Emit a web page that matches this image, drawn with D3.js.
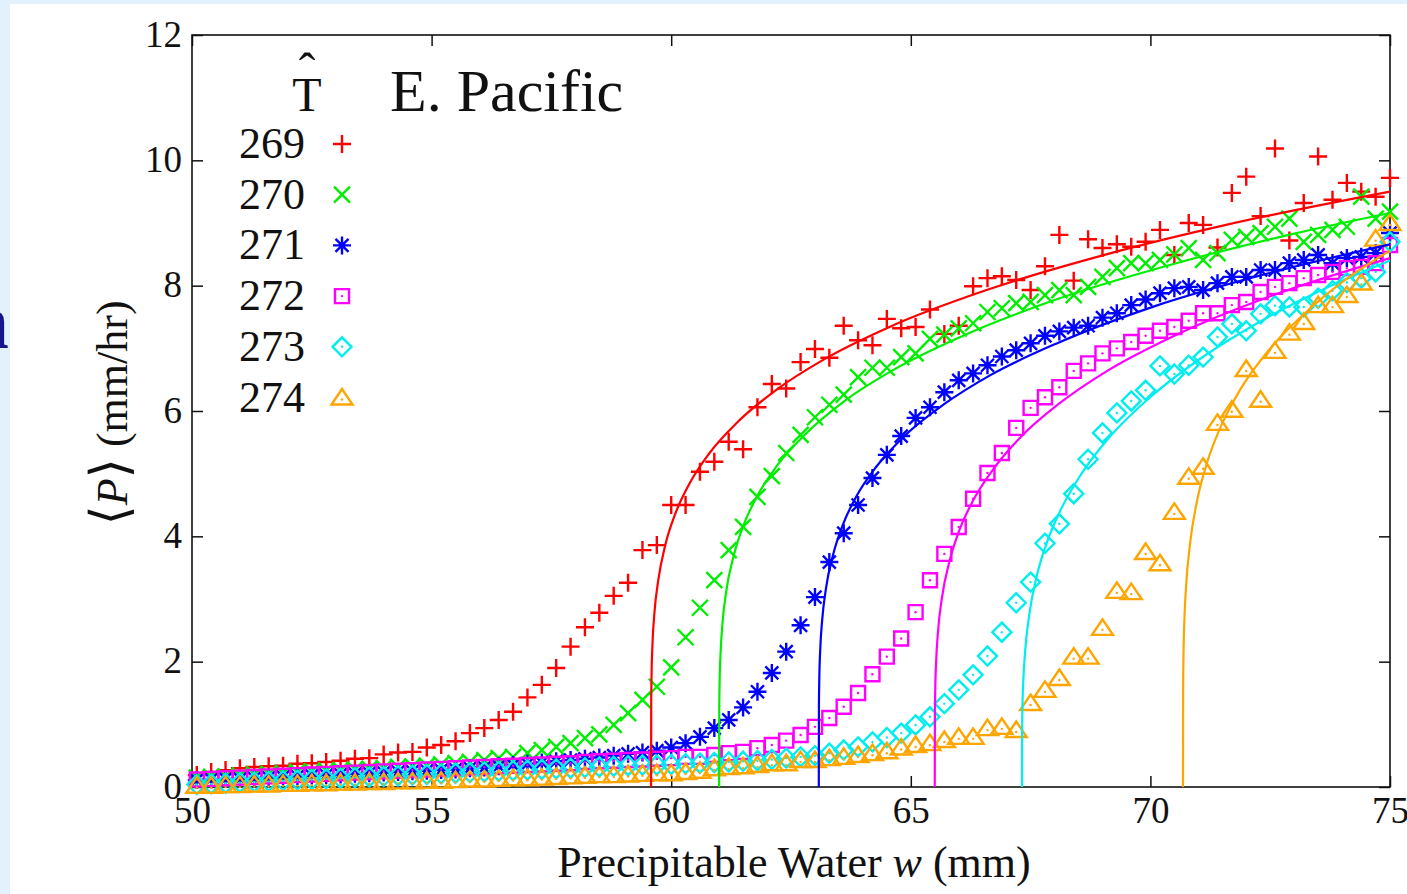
<!DOCTYPE html>
<html><head><meta charset="utf-8">
<script src="https://cdn.jsdelivr.net/npm/d3@7"></script>
<style>html,body{margin:0;padding:0;background:#e3f1fc;} svg{display:block}</style>
</head><body>
<svg id="chart" width="1407" height="894"></svg>
<script>
// ---- data ----
const wBins = [50.1,50.4,50.7,51.0,51.3,51.6,51.9,52.2,52.5,52.8,
  53.1,53.4,53.7,54.0,54.3,54.6,54.9,55.2,55.5,55.8,
  56.1,56.4,56.7,57.0,57.3,57.6,57.9,58.2,58.5,58.8,
  59.1,59.4,59.7,60.0,60.3,60.6,60.9,61.2,61.5,61.8,
  62.1,62.4,62.7,63.0,63.3,63.6,63.9,64.2,64.5,64.8,
  65.1,65.4,65.7,66.0,66.3,66.6,66.9,67.2,67.5,67.8,
  68.1,68.4,68.7,69.0,69.3,69.6,69.9,70.2,70.5,70.8,
  71.1,71.4,71.7,72.0,72.3,72.6,72.9,73.2,73.5,73.8,
  74.1,74.4,74.7,75.0];
const p269 = [0.19,0.24,0.27,0.30,0.32,0.33,0.34,0.37,0.38,0.40,
  0.42,0.45,0.46,0.52,0.55,0.56,0.63,0.67,0.73,0.86,
  0.94,1.07,1.20,1.43,1.63,1.90,2.24,2.55,2.78,3.05,
  3.26,3.78,3.86,4.50,4.50,5.03,5.19,5.51,5.39,6.06,
  6.43,6.36,6.78,6.99,6.85,7.36,7.13,7.05,7.47,7.32,
  7.34,7.62,7.23,7.36,7.99,8.12,8.15,8.09,7.93,8.31,
  8.81,8.08,8.74,8.60,8.66,8.62,8.70,8.89,8.49,9.00,
  8.97,8.61,9.48,9.74,9.11,10.19,8.72,9.32,10.06,9.37,
  9.64,9.50,9.42,9.72];
const p270 = [0.15,0.16,0.17,0.18,0.20,0.21,0.22,0.24,0.25,0.26,
  0.27,0.28,0.29,0.30,0.32,0.33,0.34,0.36,0.38,0.40,
  0.43,0.46,0.48,0.54,0.59,0.64,0.70,0.78,0.84,0.99,
  1.18,1.39,1.60,1.91,2.39,2.86,3.30,3.78,4.15,4.63,
  4.96,5.33,5.62,5.90,6.10,6.26,6.54,6.69,6.69,6.86,
  6.92,7.15,7.22,7.32,7.40,7.58,7.64,7.72,7.74,7.85,
  7.93,7.85,7.98,8.14,8.28,8.36,8.36,8.41,8.50,8.60,
  8.41,8.52,8.73,8.78,8.84,8.94,9.07,8.70,8.81,8.89,
  8.94,9.42,9.07,9.18];
const p271 = [0.11,0.12,0.13,0.13,0.14,0.15,0.16,0.17,0.18,0.19,
  0.20,0.21,0.22,0.23,0.24,0.25,0.26,0.27,0.28,0.30,
  0.31,0.33,0.35,0.37,0.39,0.41,0.43,0.45,0.47,0.50,
  0.53,0.55,0.58,0.63,0.70,0.80,0.94,1.07,1.27,1.52,
  1.82,2.16,2.58,3.03,3.59,4.05,4.50,4.93,5.30,5.60,
  5.89,6.06,6.30,6.49,6.60,6.73,6.87,6.97,7.08,7.20,
  7.27,7.33,7.36,7.49,7.56,7.69,7.78,7.88,7.96,7.98,
  7.93,8.04,8.14,8.14,8.25,8.25,8.36,8.41,8.49,8.36,
  8.44,8.46,8.52,8.84];
const p272 = [0.12,0.13,0.14,0.15,0.16,0.17,0.18,0.19,0.20,0.21,
  0.22,0.23,0.24,0.25,0.26,0.27,0.28,0.29,0.30,0.31,
  0.32,0.33,0.34,0.35,0.36,0.37,0.38,0.40,0.41,0.42,
  0.43,0.44,0.45,0.46,0.48,0.48,0.51,0.54,0.56,0.62,
  0.67,0.74,0.83,0.96,1.10,1.28,1.50,1.80,2.08,2.37,
  2.79,3.30,3.72,4.15,4.60,5.01,5.33,5.73,6.05,6.22,
  6.38,6.64,6.76,6.92,7.00,7.10,7.20,7.28,7.34,7.44,
  7.56,7.56,7.69,7.74,7.90,7.98,8.04,8.12,8.17,8.22,
  8.28,8.30,8.36,8.65];
const p273 = [0.04,0.05,0.06,0.07,0.08,0.09,0.10,0.11,0.12,0.13,
  0.14,0.15,0.16,0.17,0.18,0.19,0.20,0.21,0.22,0.23,
  0.24,0.25,0.26,0.27,0.28,0.29,0.30,0.31,0.32,0.33,
  0.34,0.35,0.35,0.36,0.37,0.38,0.39,0.40,0.41,0.42,
  0.44,0.46,0.48,0.50,0.54,0.59,0.64,0.72,0.79,0.86,
  0.99,1.12,1.33,1.55,1.79,2.09,2.47,2.94,3.27,3.89,
  4.20,4.68,5.23,5.65,5.97,6.16,6.33,6.72,6.59,6.73,
  6.86,7.18,7.39,7.28,7.55,7.68,7.66,7.66,7.80,7.92,
  8.05,8.12,8.22,8.70];
const p274 = [0.02,0.02,0.03,0.03,0.04,0.04,0.05,0.05,0.06,0.06,
  0.07,0.07,0.08,0.08,0.09,0.09,0.10,0.10,0.11,0.12,
  0.12,0.13,0.14,0.14,0.15,0.16,0.17,0.18,0.19,0.19,
  0.20,0.21,0.22,0.22,0.24,0.26,0.30,0.32,0.33,0.35,
  0.38,0.38,0.43,0.43,0.46,0.48,0.51,0.54,0.57,0.63,
  0.67,0.70,0.75,0.80,0.80,0.94,0.96,0.91,1.34,1.55,
  1.74,2.08,2.08,2.54,3.13,3.11,3.75,3.57,4.39,4.95,
  5.11,5.81,6.02,6.67,6.18,6.96,7.25,7.42,7.69,7.69,
  7.85,8.05,8.75,9.00];

// fitted curves
const fitW269 = [59.58,59.583,59.59,59.61,59.65,59.73,59.88,60.08,60.38,60.78,61.38,62.18,63.18,64.58,66.58,69.08,71.58,75.0];
const fitP269 = [0,1.35,1.78,2.29,2.78,3.30,3.87,4.35,4.84,5.31,5.82,6.33,6.82,7.35,7.93,8.50,8.97,9.50];
const fitW270 = [61.00,61.003,61.01,61.03,61.07,61.15,61.30,61.50,61.80,62.20,62.80,63.60,64.60,66.00,68.00,70.50,73.00,75.00];
const fitP270 = [0,1.24,1.65,2.13,2.61,3.13,3.68,4.16,4.65,5.12,5.63,6.15,6.64,7.17,7.77,8.35,8.83,9.16];
const fitW271 = [63.08,63.083,63.09,63.11,63.15,63.23,63.38,63.58,63.88,64.28,64.88,65.68,66.68,68.08,70.08,72.58,75.00];
const fitP271 = [0,1.29,1.70,2.19,2.66,3.17,3.71,4.18,4.66,5.11,5.61,6.10,6.58,7.09,7.67,8.22,8.66];
const fitW272 = [65.50,65.503,65.51,65.53,65.57,65.65,65.80,66.00,66.30,66.70,67.30,68.10,69.10,70.50,72.50,75.00];
const fitP272 = [0,1.14,1.54,2.02,2.50,3.02,3.58,4.07,4.57,5.05,5.59,6.12,6.64,7.20,7.83,8.44];
const fitW273 = [67.32,67.323,67.33,67.35,67.39,67.47,67.62,67.82,68.12,68.52,69.12,69.92,70.92,72.32,75.00];
const fitP273 = [0,0.90,1.27,1.73,2.20,2.74,3.34,3.86,4.41,4.95,5.56,6.17,6.77,7.44,8.40];
const fitW274 = [70.68,70.683,70.69,70.71,70.75,70.83,70.98,71.18,71.48,71.88,72.48,73.28,74.08,75.00];
const fitP274 = [0,1.56,2.07,2.68,3.26,3.90,4.59,5.17,5.77,6.35,6.98,7.60,8.10,8.56];

const tempLabels = ["269","270","271","272","273","274"];
const xTicks = [50,55,60,65,70,75];
const yTicks = [0,2,4,6,8,10,12];

// ---- build ----
const colors = ["#ff0000","#00ee00","#0000ff","#ff00ff","#00eeee","#ffa500"];
const series = [p269,p270,p271,p272,p273,p274];
const fitsW = [fitW269,fitW270,fitW271,fitW272,fitW273,fitW274];
const fitsP = [fitP269,fitP270,fitP271,fitP272,fitP273,fitP274];
const symPaths = [
  "M-9,0H9M0,-9V9",
  "M-8,-8L8,8M-8,8L8,-8",
  "M-9,0H9M0,-9V9M-6.5,-6.5L6.5,6.5M-6.5,6.5L6.5,-6.5",
  "M-7,-7H7V7H-7Z",
  "M0,-9.5L9.5,0L0,9.5L-9.5,0Z",
  "M0,-8.5L10.5,7H-10.5Z"
];
const dotOffset = [null,null,null,0,0,2];
const serif = "'Liberation Serif','Times New Roman',serif";

const svg = d3.select("#chart");
svg.append("rect").attr("width",1407).attr("height",894).attr("fill","#e3f1fc");
svg.append("rect").attr("x",10).attr("y",4).attr("width",1397).attr("height",890).attr("fill","#ffffff");
svg.append("text").attr("x",9).attr("y",348).attr("text-anchor","end")
  .attr("font-family",serif).attr("font-weight","bold").attr("font-size",78)
  .attr("fill","#16168c").text("n");

const x = d3.scaleLinear().domain([50,75]).range([192,1390]);
const y = d3.scaleLinear().domain([0,12]).range([787,35]);

// axes with inward ticks
const gB = svg.append("g").attr("transform","translate(0,787)")
  .call(d3.axisBottom(x).tickValues(xTicks).tickSizeInner(-11).tickSizeOuter(0).tickPadding(12));
const gL = svg.append("g").attr("transform","translate(192,0)")
  .call(d3.axisLeft(y).tickValues(yTicks).tickSizeInner(-11).tickSizeOuter(0).tickPadding(10));
const gT = svg.append("g").attr("transform","translate(0,35)")
  .call(d3.axisTop(x).tickValues(xTicks).tickSizeInner(-11).tickSizeOuter(0).tickFormat(""));
const gR = svg.append("g").attr("transform","translate(1390,0)")
  .call(d3.axisRight(y).tickValues(yTicks).tickSizeInner(-11).tickSizeOuter(0).tickFormat(""));
[gB,gL,gT,gR].forEach(g=>{
  g.select(".domain").remove();
  g.selectAll(".tick line").attr("stroke","#111").attr("stroke-width",1.5);
  g.selectAll("text").attr("font-family",serif).attr("font-size",37).attr("fill","#111");
});
gB.selectAll("text").attr("dy",null).attr("y",36);
gL.selectAll("text").attr("dy",null).attr("y",11).attr("x",-10);

svg.append("rect").attr("x",192).attr("y",35).attr("width",1198).attr("height",752)
  .attr("fill","none").attr("stroke","#111").attr("stroke-width",1.6);

// points
series.forEach((vals,i)=>{
  const g = svg.append("g").attr("class","pts s"+i);
  const pts = g.selectAll("g").data(vals.map((p,k)=>[wBins[k],p])).join("g")
    .attr("transform",d=>`translate(${x(d[0])},${y(d[1])})`);
  pts.append("path").attr("d",symPaths[i]).attr("fill","none")
    .attr("stroke",colors[i]).attr("stroke-width",2.4);
  if(dotOffset[i]!==null){
    pts.append("circle").attr("cx",0).attr("cy",dotOffset[i]).attr("r",1.2).attr("fill",colors[i]);
  }
});

// fit lines
const line = d3.line().x(d=>x(d[0])).y(d=>y(d[1])).curve(d3.curveMonotoneX);
fitsW.forEach((ws,i)=>{
  svg.append("path").attr("d",line(ws.map((w,k)=>[w,fitsP[i][k]])))
    .attr("fill","none").attr("stroke",colors[i]).attr("stroke-width",2.2);
});

// legend
svg.append("text").attr("x",307).attr("y",111).attr("text-anchor","middle")
  .attr("font-family",serif).attr("font-size",48).attr("fill","#111").text("T");
svg.append("text").attr("x",307).attr("y",88).attr("text-anchor","middle")
  .attr("font-family",serif).attr("font-size",50).attr("fill","#111").text("ˆ");
svg.append("text").attr("x",390).attr("y",111)
  .attr("font-family",serif).attr("font-size",60).attr("fill","#111").text("E. Pacific");
tempLabels.forEach((t,i)=>{
  const by = 158 + i*50.7;
  svg.append("text").attr("x",305).attr("y",by).attr("text-anchor","end")
    .attr("font-family",serif).attr("font-size",44).attr("fill","#111").text(t);
  const g = svg.append("g").attr("transform",`translate(342,${by-14})`);
  g.append("path").attr("d",symPaths[i]).attr("fill","none").attr("stroke",colors[i]).attr("stroke-width",2.4);
  if(dotOffset[i]!==null) g.append("circle").attr("cy",dotOffset[i]).attr("r",1.2).attr("fill",colors[i]);
});

// axis titles
const xt = svg.append("text").attr("x",794).attr("y",877).attr("text-anchor","middle")
  .attr("font-family",serif).attr("font-size",44).attr("fill","#111");
xt.append("tspan").text("Precipitable Water ");
xt.append("tspan").attr("font-style","italic").text("w");
xt.append("tspan").text(" (mm)");

const yt = svg.append("text").attr("transform","translate(127,413) rotate(-90)")
  .attr("text-anchor","middle").attr("font-family",serif).attr("font-size",44).attr("fill","#111");
yt.append("tspan").attr("font-family","'DejaVu Serif',serif").attr("font-size",52).text("⟨");
yt.append("tspan").attr("font-style","italic").text("P");
yt.append("tspan").attr("font-family","'DejaVu Serif',serif").attr("font-size",52).text("⟩");
yt.append("tspan").text(" (mm/hr)");
</script>
</body></html>
